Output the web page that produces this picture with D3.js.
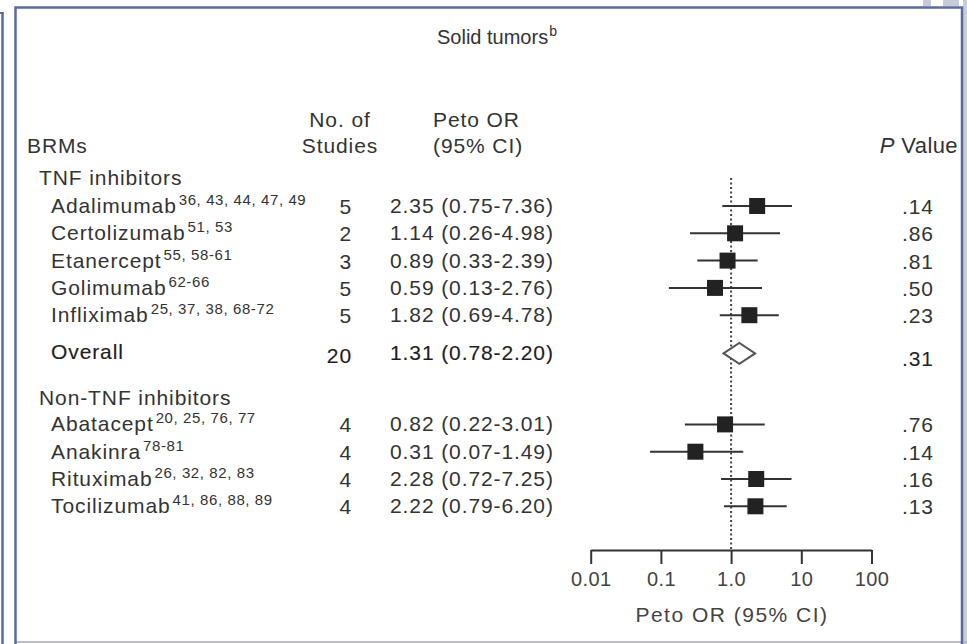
<!DOCTYPE html>
<html>
<head>
<meta charset="utf-8">
<script src="https://cdn.jsdelivr.net/npm/d3@7"></script>
<style>
  html, body { margin: 0; padding: 0; background: #fff; }
  svg { display: block; }
  text { font-family: "Liberation Sans", Arial, Helvetica, sans-serif; fill: #333; }
</style>
</head>
<body>
<svg id="chart" width="967" height="644"></svg>
<script>
// ---- Data ----
const title = "Solid tumors";
const titleSup = "b";
const drugs = ["Adalimumab", "Certolizumab", "Etanercept", "Golimumab", "Infliximab",
               "Abatacept", "Anakinra", "Rituximab", "Tocilizumab"];
const refs = ["36, 43, 44, 47, 49", "51, 53", "55, 58-61", "62-66", "25, 37, 38, 68-72",
              "20, 25, 76, 77", "78-81", "26, 32, 82, 83", "41, 86, 88, 89"];
const nStudies = [5, 2, 3, 5, 5, 4, 4, 4, 4];
const orValues = [2.35, 1.14, 0.89, 0.59, 1.82, 0.82, 0.31, 2.28, 2.22];
const ciLow = [0.75, 0.26, 0.33, 0.13, 0.69, 0.22, 0.07, 0.72, 0.79];
const ciHigh = [7.36, 4.98, 2.39, 2.76, 4.78, 3.01, 1.49, 7.25, 6.20];
const pValues = [".14", ".86", ".81", ".50", ".23", ".76", ".14", ".16", ".13"];
const rowIndex = [0, 1, 2, 3, 4, 8, 9, 10, 11];
const groupNames = ["TNF inhibitors", "Non-TNF inhibitors"];
const groupFirstRow = [0, 8];
const overallLabel = "Overall";
const overallN = 20;
const overallOR = 1.31, overallLow = 0.78, overallHigh = 2.20;
const overallP = ".31";
const overallRow = 5.4;
const axisTicks = [0.01, 0.1, 1, 10, 100];
const axisTickLabels = ["0.01", "0.1", "1.0", "10", "100"];
const axisTitle = "Peto OR (95% CI)";

// ---- Layout ----
const svg = d3.select("#chart");
const frameColor = "#5b6a9f";
const ink = "#333";

// decorative page edges
svg.append("rect").attr("x", 923).attr("y", 0).attr("width", 8).attr("height", 6).attr("fill", "#c6cad9");
svg.append("rect").attr("x", 943).attr("y", 0).attr("width", 16).attr("height", 6).attr("fill", "#c6cad9");
svg.append("rect").attr("x", 963).attr("y", 0).attr("width", 4).attr("height", 644).attr("fill", "#c9ccda");
svg.append("line").attr("x1", 2.5).attr("x2", 2.5).attr("y1", 12).attr("y2", 644)
   .attr("stroke", frameColor).attr("stroke-width", 2.5);
svg.append("line").attr("x1", 0).attr("x2", 3.5).attr("y1", 13).attr("y2", 13)
   .attr("stroke", frameColor).attr("stroke-width", 2);
svg.append("line").attr("x1", 15).attr("x2", 967).attr("y1", 642).attr("y2", 642)
   .attr("stroke", "#b9bdcd").attr("stroke-width", 2);
svg.append("rect").attr("x", 15.5).attr("y", 7.5).attr("width", 946.5).attr("height", 640)
   .attr("fill", "none").attr("stroke", frameColor).attr("stroke-width", 2.5);

const x = d3.scaleLog().domain([0.01, 100]).range([590.7, 871.5]);
const y = d3.scaleLinear().domain([0, 11]).range([206, 506.3]);

const body = { size: "21px", ls: "0.9px" };

function txt(xp, yp, s, opts = {}) {
  const t = svg.append("text").attr("x", xp).attr("y", yp)
    .style("font-size", opts.size || body.size)
    .style("letter-spacing", opts.ls || body.ls)
    .attr("text-anchor", opts.anchor || "start")
    .text(s);
  if (opts.weight) t.style("font-weight", opts.weight);
  if (opts.fill) t.style("fill", opts.fill);
  if (opts.stroke) t.style("stroke", opts.stroke).style("stroke-width", opts.strokeWidth || 0.4);
  if (opts.italic) t.style("font-style", "italic");
  return t;
}

// Title
const tt = svg.append("text").attr("x", 437).attr("y", 44).attr("text-anchor", "start")
  .style("font-size", "20px").style("letter-spacing", "0px");
tt.append("tspan").text(title);
tt.append("tspan").attr("dy", -8).attr("dx", 1).style("font-size", "14px").text(titleSup);

// Headers
txt(27, 153, "BRMs");
txt(340, 127, "No. of", { anchor: "middle" });
txt(340, 153, "Studies", { anchor: "middle" });
txt(433, 127, "Peto OR");
txt(433, 153, "(95% CI)");
const pv = svg.append("text").attr("x", 958).attr("y", 153).attr("text-anchor", "end")
  .style("font-size", "22px").style("letter-spacing", "0.4px");
pv.append("tspan").style("font-style", "italic").text("P");
pv.append("tspan").text(" Value");

// Group headers
groupNames.forEach((g, i) => {
  txt(39, y(groupFirstRow[i]) - 21 + (i === 1 ? 1.5 : 0), g);
});

// Study rows
const rows = drugs.map((d, i) => ({
  name: d, ref: refs[i], n: nStudies[i], or: orValues[i],
  lo: ciLow[i], hi: ciHigh[i], p: pValues[i], r: rowIndex[i]
}));

rows.forEach(d => {
  const yy = y(d.r);
  const t = svg.append("text").attr("x", 51).attr("y", yy + 7)
    .style("font-size", body.size).style("letter-spacing", body.ls);
  t.append("tspan").text(d.name);
  t.append("tspan").attr("dy", -8).attr("dx", 2).style("font-size", "15px")
    .style("letter-spacing", "0.6px").text(d.ref);
  txt(352, yy + 8, d.n, { anchor: "end" });
  txt(390, yy + 7, `${d.or.toFixed(2)} (${d.lo.toFixed(2)}-${d.hi.toFixed(2)})`);
  txt(902, yy + 8, d.p);
});

// Overall row
const yo = y(overallRow);
const bold = { fill: "#1e1e1e", stroke: "#1e1e1e", strokeWidth: 0.15 };
txt(51, yo + 6, overallLabel, bold);
txt(352, yo + 10, overallN, Object.assign({ anchor: "end" }, bold));
txt(390, yo + 7, `${overallOR.toFixed(2)} (${overallLow.toFixed(2)}-${overallHigh.toFixed(2)})`, bold);
txt(902, yo + 13, overallP, { fill: "#222" });

// Reference line at OR = 1
svg.append("line").attr("x1", x(1)).attr("x2", x(1)).attr("y1", 178).attr("y2", 550)
  .attr("stroke", "#444").attr("stroke-width", 2).attr("stroke-dasharray", "2,2.5");

// CI lines
svg.append("g").selectAll("line").data(rows).join("line")
  .attr("x1", d => x(d.lo)).attr("x2", d => x(d.hi))
  .attr("y1", d => y(d.r)).attr("y2", d => y(d.r))
  .attr("stroke", ink).attr("stroke-width", 2);

// Squares
const sq = 16;
svg.append("g").selectAll("rect").data(rows).join("rect")
  .attr("x", d => x(d.or) - sq / 2).attr("y", d => y(d.r) - sq / 2)
  .attr("width", sq).attr("height", sq).attr("fill", "#222");

// Overall diamond
const dh = 10.5;
svg.append("path")
  .attr("d", `M${x(overallLow)},${yo} L${x(overallOR)},${yo - dh} L${x(overallHigh)},${yo} L${x(overallOR)},${yo + dh} Z`)
  .attr("fill", "#fff").attr("stroke", "#555").attr("stroke-width", 2);

// Axis
const axis = d3.axisBottom(x).tickValues(axisTicks)
  .tickFormat((d, i) => axisTickLabels[i]).tickSize(14).tickSizeOuter(0).tickPadding(8);
const ag = svg.append("g").attr("transform", "translate(0,550)").call(axis);
ag.select(".domain").attr("stroke", ink).attr("stroke-width", 2);
ag.selectAll(".tick line").attr("stroke", ink).attr("stroke-width", 2).attr("y1", 0);
ag.selectAll(".tick text").style("font-size", "20px").style("letter-spacing", "0.4px")
  .style("fill", "#444").attr("font-family", null);
ag.attr("font-family", null).attr("font-size", null);

txt(732, 622, axisTitle, { anchor: "middle", ls: "1.5px", fill: "#444" });
</script>
</body>
</html>
